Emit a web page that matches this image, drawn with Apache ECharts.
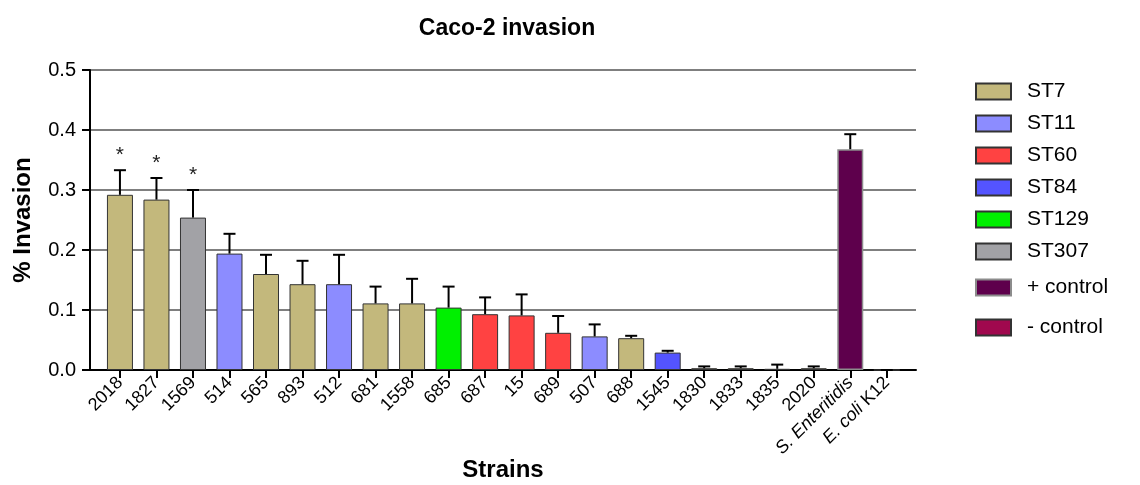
<!DOCTYPE html>
<html>
<head>
<meta charset="utf-8">
<script src="https://cdn.jsdelivr.net/npm/echarts@6/dist/echarts.min.js"></script>
<style>html,body{margin:0;padding:0;background:#fff;}#chart{width:1140px;height:485px;}</style>
</head>
<body>
<div id="chart"></div>
<script>
const categories = ['2018','1827','1569','514','565','893','512','681','1558','685','687','15','689','507','688','1545','1830','1833','1835','2020','S. Enteritidis','E. coli K12'];
const invasion = [0.292,0.284,0.254,0.194,0.160,0.143,0.143,0.111,0.111,0.104,0.093,0.091,0.062,0.056,0.053,0.029,0.003,0.003,0.002,0.003,0.368,0];
const errorSD  = [0.041,0.036,0.046,0.033,0.032,0.039,0.049,0.028,0.041,0.035,0.028,0.035,0.028,0.020,0.004,0.003,0.003,0.003,0.007,0.003,0.025,0];
const strainGroup = ['ST7','ST7','ST307','ST11','ST7','ST7','ST11','ST7','ST7','ST129','ST60','ST60','ST60','ST11','ST7','ST84','ST7','ST7','ST7','ST7','+ control','- control'];
const significance = ['*','*','*','','','','','','','','','','','','','','','','','','',''];
const groupNames = ['ST7','ST11','ST60','ST84','ST129','ST307','+ control','- control'];

const groupColors = {
  'ST7':'#c3b87c','ST11':'#8c8cff','ST60':'#ff4242','ST84':'#5454ff',
  'ST129':'#00f000','ST307':'#a2a2a6','+ control':'#5e004c','- control':'#a0084e'
};
const FONT = '"Liberation Sans", Arial, sans-serif';
const X_MIN = -0.82, X_MAX = 21.8;

const barSeries = groupNames.map(g => {
  const data = [];
  categories.forEach((c, i) => { if (strainGroup[i] === g) data.push([i, invasion[i]]); });
  return {
    name: g, type: 'bar', data: data, barWidth: 26, barGap: '-100%',
    itemStyle: {
      color: groupColors[g],
      borderColor: g === '+ control' ? '#8c8c8c' : '#333',
      borderWidth: g === '+ control' ? 1.5 : 1
    },
    z: 2
  };
});

const errData = categories.map((c, i) => [i, invasion[i], errorSD[i]]);

const errorSeries = {
  type: 'custom', name: 'err', z: 5, silent: true,
  data: errData,
  encode: { x: 0, y: [1, 2] },
  renderItem: function (params, api) {
    const idx = params.dataIndex;
    const x = api.value(0), m = api.value(1), s = api.value(2);
    const base = api.coord([x, m]);
    const top = api.coord([x, m + s]);
    const children = [
      { type: 'line', shape: { x1: base[0], y1: base[1], x2: top[0], y2: top[1] }, style: { stroke: '#000', lineWidth: 2 } },
      { type: 'line', shape: { x1: top[0] - 6, y1: top[1], x2: top[0] + 6, y2: top[1] }, style: { stroke: '#000', lineWidth: 2 } }
    ];
    if (significance[idx]) {
      children.push({ type: 'text', x: top[0], y: top[1] - 4,
        style: { text: significance[idx], fill: '#222', font: '21px ' + FONT, align: 'center', verticalAlign: 'bottom' } });
    }
    return { type: 'group', children: children };
  }
};

const chart = echarts.init(document.getElementById('chart'), null, { renderer: 'canvas' });
const legendBase = {
  orient: 'vertical', left: 975, itemWidth: 35, itemHeight: 16, itemGap: 11, padding: 0,
  icon: 'rect',
  textStyle: { fontSize: 21, fontFamily: FONT, color: '#000', padding: [0, 0, 0, 11] }
};
chart.setOption({
  animation: false,
  backgroundColor: '#fff',
  title: {
    text: 'Caco-2 invasion', left: 502, top: 12, textAlign: 'center',
    textStyle: { fontSize: 23, fontWeight: 'bold', fontFamily: FONT, color: '#000' }
  },
  legend: [
    Object.assign({}, legendBase, { top: 81, data: groupNames.slice(0, 6) }),
    Object.assign({}, legendBase, { top: 277, data: [groupNames[6]] }),
    Object.assign({}, legendBase, { top: 317, data: [groupNames[7]] })
  ],
  grid: { left: 90, right: 224, top: 70, bottom: 115, containLabel: false, outerBoundsMode: 'none' },
  xAxis: {
    type: 'value', min: X_MIN, max: X_MAX,
    name: 'Strains', nameLocation: 'middle', nameGap: 88, nameMoveOverlap: false,
    nameTextStyle: { fontSize: 24, fontWeight: 'bold', fontFamily: FONT, color: '#000' },
    axisLine: { show: true, onZero: false, lineStyle: { color: '#000', width: 2 } },
    axisTick: { show: true, length: 8, lineStyle: { color: '#000', width: 2 }, customValues: categories.map((c, i) => i) },
    splitLine: { show: false },
    axisLabel: {
      customValues: categories.map((c, i) => i),
      rotate: 45, margin: 10, fontSize: 18, fontFamily: FONT, color: '#000',
      formatter: function (v) {
        const name = categories[Math.round(v)];
        if (name === 'S. Enteritidis') return '{it|S. Enteritidis}';
        if (name === 'E. coli K12') return '{it|E. coli} K12';
        return name;
      },
      rich: { it: { fontStyle: 'italic', fontSize: 18, fontFamily: FONT, color: '#000' } }
    }
  },
  yAxis: {
    type: 'value', min: 0, max: 0.5, interval: 0.1,
    name: '% Invasion', nameLocation: 'middle', nameGap: 55, nameMoveOverlap: false,
    nameTextStyle: { fontSize: 24, fontWeight: 'bold', fontFamily: FONT, color: '#000' },
    axisLine: { show: true, onZero: false, lineStyle: { color: '#000', width: 2 } },
    axisTick: { show: true, length: 8, lineStyle: { color: '#000', width: 2 } },
    splitLine: { show: true, lineStyle: { color: '#555', width: 1.5 } },
    axisLabel: { fontSize: 20, fontFamily: FONT, color: '#000', margin: 14, formatter: v => v.toFixed(1) }
  },
  series: barSeries.concat([errorSeries])
});
</script>
</body>
</html>
